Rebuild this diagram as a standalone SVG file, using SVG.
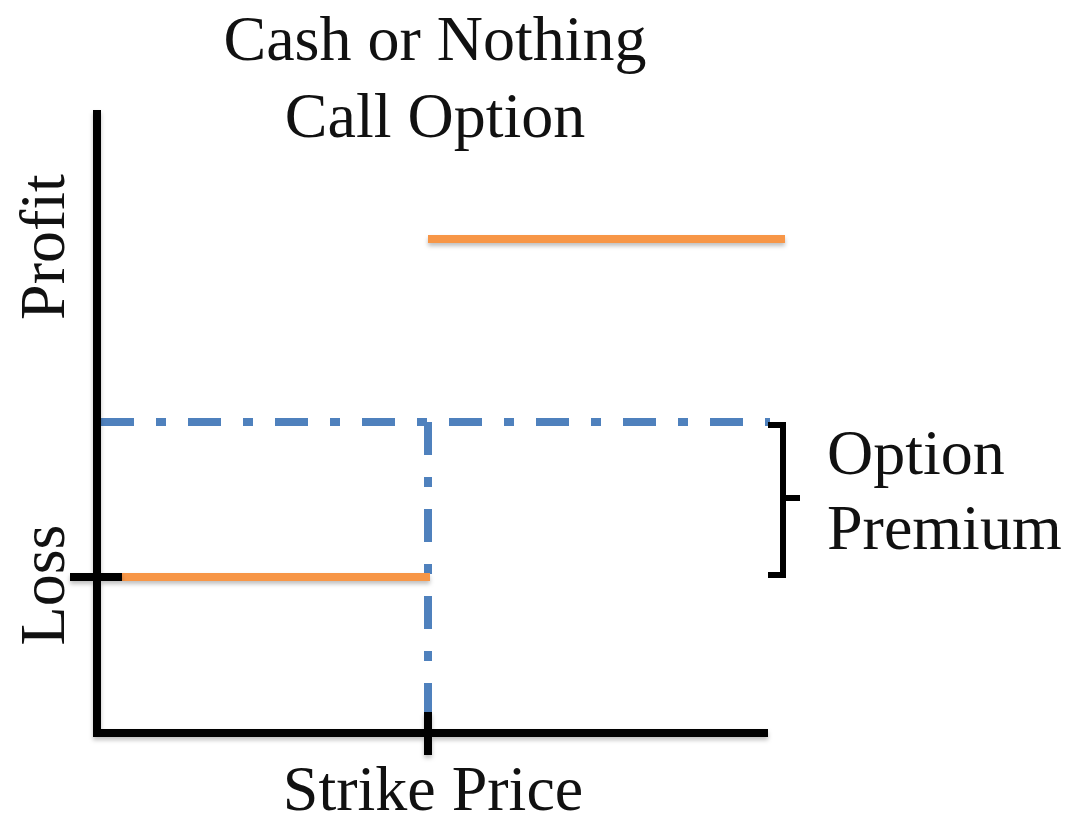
<svg xmlns="http://www.w3.org/2000/svg" width="1071" height="823" viewBox="0 0 1071 823">
<style>
  text { font-family: "Liberation Serif", "Times New Roman", serif; font-size: 64px; fill: #111; }
  .ax { stroke: #000; stroke-width: 8; fill: none; }
  .pay { stroke: #F79646; stroke-width: 8; fill: none; }
  .guide { stroke: #4F81BD; stroke-width: 8; fill: none; stroke-dasharray: 33 22 10 22; }
  .br { stroke: #000; stroke-width: 6; fill: none; }
</style>
<defs>
  <filter id="sh" filterUnits="userSpaceOnUse" x="0" y="0" width="1071" height="823">
    <feDropShadow dx="0" dy="3" stdDeviation="2" flood-color="#000" flood-opacity="0.25"/>
  </filter>
</defs>
<rect width="1071" height="823" fill="#fff"/>
<g id="title">
  <text x="435" y="60" text-anchor="middle">Cash or Nothing</text>
  <text x="435" y="137" text-anchor="middle">Call Option</text>
</g>
<g id="connectors">
  <line class="guide" x1="101" y1="422" x2="770" y2="422"/>
  <line class="guide" x1="428" y1="422" x2="428" y2="712"/>
  <line class="pay" x1="122" y1="577" x2="430" y2="577" filter="url(#sh)"/>
  <line class="pay" x1="428" y1="239" x2="785" y2="239" filter="url(#sh)"/>
</g>
<g id="axes" filter="url(#sh)">
  <line class="ax" x1="97" y1="110" x2="97" y2="737"/>
  <line class="ax" x1="93" y1="733" x2="768" y2="733"/>
  <line class="ax" x1="428" y1="712" x2="428" y2="755"/>
  <line class="ax" x1="70" y1="577" x2="122" y2="577"/>
</g>
<g id="axis-labels">
  <text transform="translate(64,247) rotate(-90)" text-anchor="middle">Profit</text>
  <text transform="translate(64,585) rotate(-90)" text-anchor="middle">Loss</text>
  <text x="433" y="810" text-anchor="middle">Strike Price</text>
</g>
<g id="premium">
  <path class="br" d="M768,425 H783 V575 H768 M783,498 H800"/>
  <text x="827" y="474">Option</text>
  <text x="827" y="549">Premium</text>
</g>
</svg>
